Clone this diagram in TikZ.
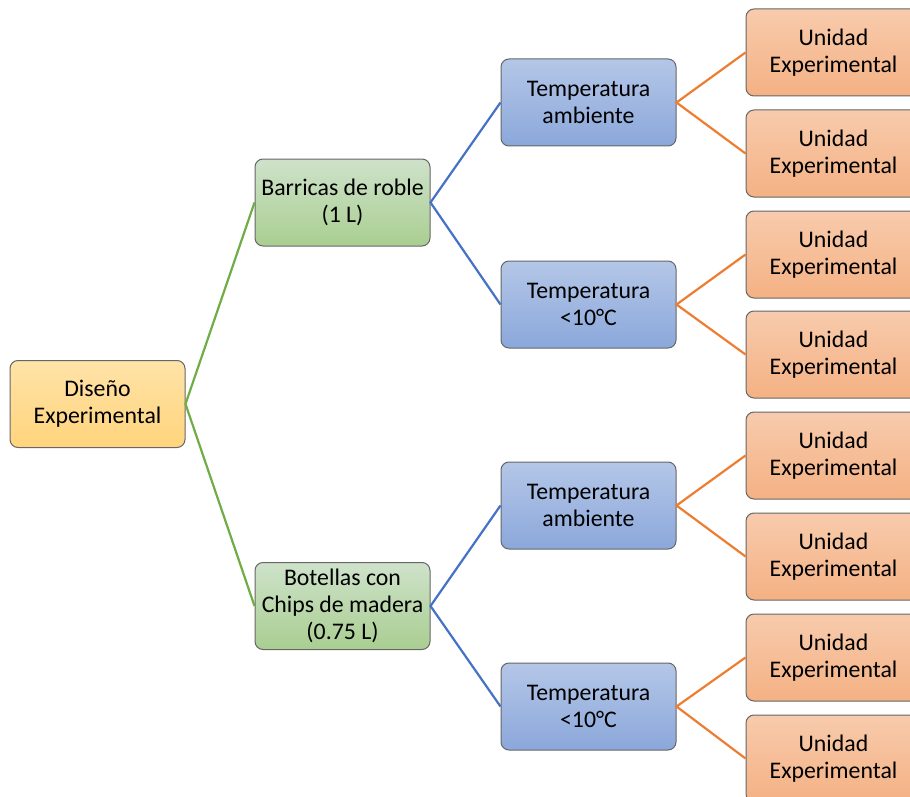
\documentclass[tikz,border=0pt]{standalone}
\usepackage{fontspec}
\setmainfont{Carlito}
\usepackage{tikz}
\usetikzlibrary{positioning}
\usepackage{xcolor}
\definecolor{lnGreen}{HTML}{70AD47}
\definecolor{lnBlue}{HTML}{4472C4}
\definecolor{lnOrange}{HTML}{ED7D31}
\definecolor{rootTop}{HTML}{FFE3A8}
\definecolor{rootBot}{HTML}{FFD47C}

\begin{document}
\begin{tikzpicture}[x=0.5pt,y=-0.5pt,
  box/.style={draw=black!60,line width=0.5pt,rounded corners=4pt,minimum width=87.5pt,minimum height=43.5pt,
    inner sep=1pt,align=center,font=\fontsize{11.9}{13.5}\selectfont},
  rootbox/.style={box,top color=rootTop,bottom color=rootBot},
  groupbox/.style={box,top color=green!40!black!15!white!90!lnGreen,bottom color=lnGreen!60!white},
  tempbox/.style={box,top color=lnBlue!40!white,bottom color=lnBlue!62!white},
  unitbox/.style={box,top color=lnOrange!40!white,bottom color=lnOrange!60!white},
  link/.style={line width=1.1pt}]
\useasboundingbox (0,0) rectangle (910,797);
\clip (0,0) rectangle (910,797);
\node[rootbox] (root) at (97.5,404) {Diseño\\Experimental};
\node[groupbox] (barr) at (342.5,202.5) {Barricas de roble\\(1 L)};
\node[groupbox] (bot) at (342.5,606) {Botellas con\\Chips de madera\\(0.75 L)};
\node[tempbox] (t1) at (588.5,102.5) {Temperatura\\ambiente};
\node[tempbox] (t2) at (588.5,304.5) {Temperatura\\<10°C};
\node[tempbox] (t3) at (588.5,505.5) {Temperatura\\ambiente};
\node[tempbox] (t4) at (588.5,706.5) {Temperatura\\<10°C};
\foreach \i/\yy in {1/52.5,2/153.5,3/254.5,4/354.5,5/455.5,6/556.5,7/657.5,8/758.5}
  \node[unitbox] (u\i) at (833.5,\yy) {Unidad\\Experimental};

\draw[link,lnGreen] (barr.west) -- (root.east) -- (bot.west);
\draw[link,lnBlue] (t1.west) -- (barr.east) -- (t2.west);
\draw[link,lnBlue] (t3.west) -- (bot.east) -- (t4.west);
\draw[link,lnOrange] (u1.west) -- (t1.east) -- (u2.west);
\draw[link,lnOrange] (u3.west) -- (t2.east) -- (u4.west);
\draw[link,lnOrange] (u5.west) -- (t3.east) -- (u6.west);
\draw[link,lnOrange] (u7.west) -- (t4.east) -- (u8.west);
\end{tikzpicture}
\end{document}
